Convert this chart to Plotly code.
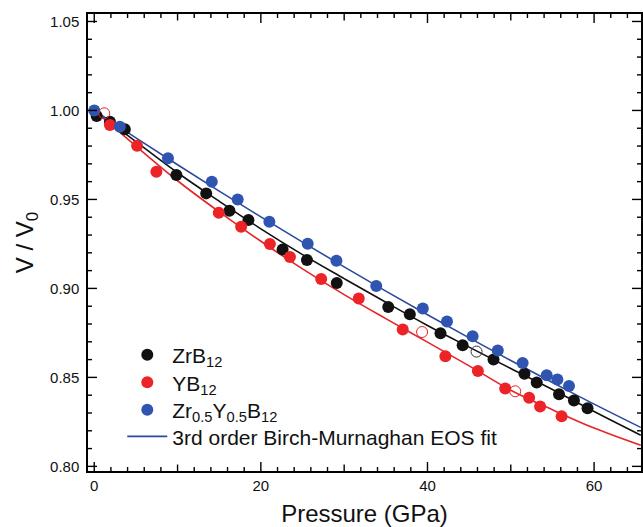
import plotly.graph_objects as go

# ---- measured compression data (pressure in GPa, relative volume V/V0) ----
zrb12_p = [0.29, 1.88, 3.67, 9.86, 13.44, 16.23, 18.51, 22.61, 25.53, 29.11,
           35.29, 37.88, 41.56, 44.22, 47.93, 51.64, 53.11, 55.79, 57.58, 59.21]
zrb12_v = [0.9969, 0.9936, 0.9894, 0.9637, 0.9534, 0.9436, 0.9384, 0.9219, 0.9160, 0.9031,
           0.8896, 0.8855, 0.8748, 0.8681, 0.8600, 0.8521, 0.8471, 0.8405, 0.8370, 0.8327]
zrb12_open_p = [45.89]
zrb12_open_v = [0.8645]

yb12_p = [1.88, 5.14, 7.46, 14.95, 17.63, 21.08, 23.49, 27.24, 31.75, 37.03,
          42.15, 46.05, 49.33, 52.20, 53.52, 56.10]
yb12_v = [0.9918, 0.9801, 0.9655, 0.9425, 0.9346, 0.9249, 0.9177, 0.9053, 0.8943, 0.8769,
          0.8619, 0.8536, 0.8437, 0.8386, 0.8336, 0.8281]
yb12_open_p = [1.20, 39.35, 50.53]
yb12_open_v = [0.9984, 0.8755, 0.8422]

zryb12_p = [0.0, 3.07, 8.85, 14.11, 17.22, 21.02, 25.62, 29.07, 33.85, 39.44,
            42.34, 45.42, 48.44, 51.42, 54.31, 55.59, 56.99]
zryb12_v = [1.0000, 0.9908, 0.9731, 0.9599, 0.9500, 0.9374, 0.9251, 0.9155, 0.9014, 0.8887,
            0.8814, 0.8731, 0.8651, 0.8581, 0.8512, 0.8488, 0.8452]

# ---- 3rd order Birch-Murnaghan EOS fit curves ----
fit_p = [0, 5, 10, 15, 20, 25, 30, 35, 40, 45, 50, 55, 60, 65.6]
fit_zrb12 = [1.000, 0.9825, 0.9650, 0.9490, 0.9335, 0.9190, 0.9055, 0.8922, 0.8792,
             0.8670, 0.8550, 0.8432, 0.8308, 0.8175]
fit_yb12 = [1.000, 0.9800, 0.9605, 0.9430, 0.9265, 0.9110, 0.8965, 0.8830, 0.8698,
            0.8565, 0.8428, 0.8318, 0.8215, 0.8118]
fit_zryb12 = [1.000, 0.9846, 0.9695, 0.9547, 0.9402, 0.9260, 0.9121, 0.8985, 0.8852,
              0.8722, 0.8595, 0.8471, 0.8350, 0.8219]

# axis tick layout: labelled ticks plus minor subdivisions
x_major_ticks = [0, 20, 40, 60]
x_minor_step = 2
y_major_ticks = [0.80, 0.85, 0.90, 0.95, 1.00, 1.05]
y_minor_step = 0.01

BLACK = "#111111"
RED = "#ec2327"
BLUE = "#2f55b0"
BLUE_LINE = "#2b4a9f"
RED_LINE = "#e3262a"
FONT = "Arial, Liberation Sans, sans-serif"

W, H = 643, 527
M_L, M_R, M_T, M_B = 88, 0, 14, 56
X_RANGE = [-0.75, 65.63]
Y_RANGE = [0.7974, 1.0542]

# data units per screen pixel, used to size the inward tick marks
dx_px = (X_RANGE[1] - X_RANGE[0]) / (W - M_L - M_R)
dy_px = (Y_RANGE[1] - Y_RANGE[0]) / (H - M_T - M_B)

fig = go.Figure()

# fit curves (drawn first so symbols sit on top)
fig.add_trace(go.Scatter(x=fit_p, y=fit_zrb12, mode="lines", showlegend=False,
                         line=dict(color=BLACK, width=1.6, shape="spline")))
fig.add_trace(go.Scatter(x=fit_p, y=fit_yb12, mode="lines", showlegend=False,
                         line=dict(color=RED_LINE, width=1.6, shape="spline")))
fig.add_trace(go.Scatter(x=fit_p, y=fit_zryb12, mode="lines", legend="legend4",
                         name="3rd order Birch-Murnaghan EOS fit",
                         line=dict(color=BLUE_LINE, width=1.6, shape="spline")))

msize = 12
fig.add_trace(go.Scatter(x=zrb12_p, y=zrb12_v, mode="markers", name="ZrB<sub>12</sub>",
                         legend="legend", marker=dict(color=BLACK, size=msize)))
fig.add_trace(go.Scatter(x=yb12_p, y=yb12_v, mode="markers", name="YB<sub>12</sub>",
                         legend="legend2", marker=dict(color=RED, size=msize)))
fig.add_trace(go.Scatter(x=zryb12_p, y=zryb12_v, mode="markers",
                         name="Zr<sub>0.5</sub>Y<sub>0.5</sub>B<sub>12</sub>",
                         legend="legend3", marker=dict(color=BLUE, size=msize)))

# open symbols
fig.add_trace(go.Scatter(x=zrb12_open_p, y=zrb12_open_v, mode="markers", showlegend=False,
                         marker=dict(color="rgba(0,0,0,0)", size=msize - 1,
                                     line=dict(color="#333333", width=1))))
fig.add_trace(go.Scatter(x=yb12_open_p, y=yb12_open_v, mode="markers", showlegend=False,
                         marker=dict(color="rgba(0,0,0,0)", size=msize - 1,
                                     line=dict(color=RED_LINE, width=1))))

# Inward tick marks on all four frame edges (long at labelled ticks,
# medium at 10/30/50, short at the minor subdivisions).
tx, ty = [], []
n_x = int(X_RANGE[1] // x_minor_step)
for i in range(0, n_x + 1):
    t = i * x_minor_step
    if t in x_major_ticks:
        L = 9
    elif t % 10 == 0:
        L = 6.5
    else:
        L = 4
    tx += [t, t, None, t, t, None]
    ty += [Y_RANGE[0], Y_RANGE[0] + L * dy_px, None,
           Y_RANGE[1], Y_RANGE[1] - L * dy_px, None]
n_y = int(round((y_major_ticks[-1] - y_major_ticks[0]) / y_minor_step))
for j in range(0, n_y + 1):
    v = round(y_major_ticks[0] + j * y_minor_step, 4)
    L = 9 if any(abs(v - m) < 1e-9 for m in y_major_ticks) else 4
    tx += [X_RANGE[0], X_RANGE[0] + L * dx_px, None,
           X_RANGE[1], X_RANGE[1] - L * dx_px, None]
    ty += [v, v, None, v, v, None]
fig.add_trace(go.Scatter(x=tx, y=ty, mode="lines", showlegend=False, hoverinfo="skip",
                         line=dict(color="black", width=1.4), cliponaxis=False))

legend_style = dict(xanchor="left", yanchor="middle", bgcolor="rgba(0,0,0,0)", borderwidth=0,
                    font=dict(size=21, family=FONT, color=BLACK), itemwidth=40)

fig.update_layout(
    width=W, height=H,
    margin=dict(l=M_L, r=M_R, t=M_T, b=M_B),
    paper_bgcolor="white", plot_bgcolor="white",
    font=dict(family=FONT, color=BLACK, size=15),
    xaxis=dict(
        range=X_RANGE, showgrid=False, zeroline=False,
        showline=True, linecolor="black", linewidth=1.5, mirror=True,
        ticks="", tickvals=x_major_ticks, tickfont=dict(size=15),
        title=dict(text="Pressure (GPa)", font=dict(size=24), standoff=12),
    ),
    yaxis=dict(
        range=Y_RANGE, showgrid=False, zeroline=False,
        showline=True, linecolor="black", linewidth=1.5, mirror=True,
        ticks="", tickvals=y_major_ticks, tickformat=".2f", tickfont=dict(size=15),
        ticklabelstandoff=4,
        title=dict(text="V / V<sub>0</sub>", font=dict(size=24), standoff=10),
    ),
    legend=dict(x=0.062, y=0.2538, **legend_style),
    legend2=dict(x=0.062, y=0.1932, **legend_style),
    legend3=dict(x=0.062, y=0.1335, **legend_style),
    legend4=dict(x=0.062, y=0.0751, **legend_style),
)

fig.write_html("out.html")
